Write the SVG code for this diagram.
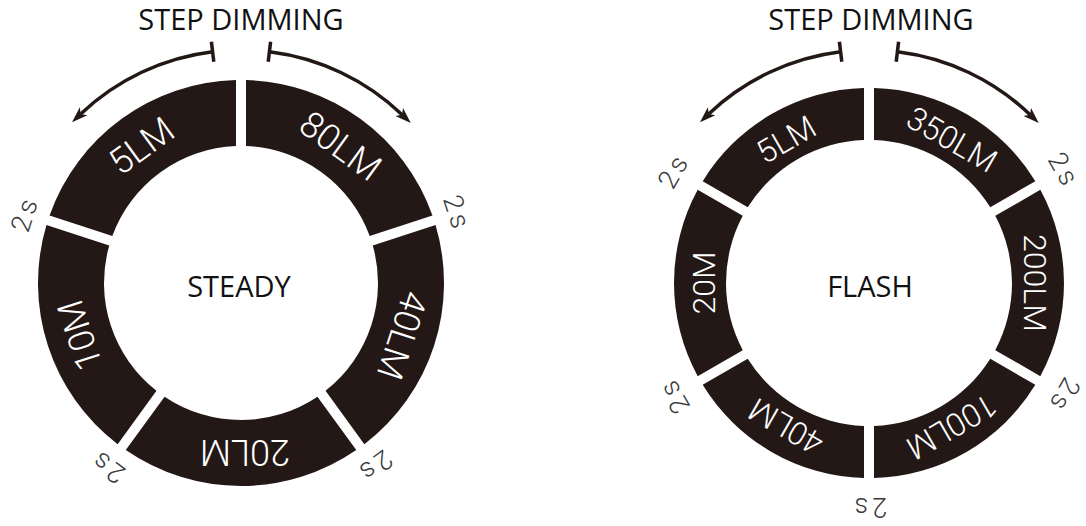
<svg xmlns="http://www.w3.org/2000/svg" width="1086" height="526" viewBox="0 0 1086 526">
  <style>
    .seg { fill: #231815; }
    .lbl { fill: #ffffff; font-family: Roboto, "Liberation Sans", sans-serif; font-weight: 300; text-anchor: middle; }
    .lblL { font-size: 36px; }
    .lblR { font-size: 32px; }
    .time { fill: #3a3a3a; font-family: Roboto, "Liberation Sans", sans-serif; font-weight: 300; font-size: 27px; text-anchor: middle; letter-spacing: 4px; }
    .title { fill: #111111; font-family: "Open Sans", "Noto Sans", sans-serif; font-size: 29px; text-anchor: middle; }
    .arc { fill: none; stroke: #231815; stroke-width: 3.5; }
  </style>
  <defs>
    <marker id="ah" markerUnits="userSpaceOnUse" markerWidth="16" markerHeight="12" viewBox="0 0 16 12" refX="4" refY="6" orient="auto">
      <path d="M0,0.5 L16,6 L0,11.5 L4,6 Z" fill="#231815"/>
    </marker>
  </defs>

  <rect width="1086" height="526" fill="#ffffff"/>

  <!-- Left diagram: STEADY -->
  <text class="title" x="241" y="30">STEP DIMMING</text>
  <text class="title" x="239" y="297">STEADY</text>

  <g id="steady-80lm">
    <path class="seg" d="M246,80.06 A203,203 0 0 1 432.47,215.54 L369.67,235.94 A137,137 0 0 0 246,146.09 Z"/>
    <text class="lbl lblL" transform="translate(340.9,145.5) rotate(36)" y="13">80LM</text>
  </g>
  <g id="steady-40lm">
    <path class="seg" d="M435.56,225.05 A203,203 0 0 1 364.34,444.24 L325.52,390.82 A137,137 0 0 0 372.76,245.45 Z"/>
    <text class="lbl lblL" transform="translate(402.7,335.5) rotate(108)" y="13">40LM</text>
  </g>
  <g id="steady-20lm">
    <path class="seg" d="M356.25,450.12 A203,203 0 0 1 125.76,450.12 L164.58,396.70 A137,137 0 0 0 317.43,396.70 Z"/>
    <text class="lbl lblL" transform="translate(245,453) rotate(180)" y="13">20LM</text>
  </g>
  <g id="steady-10m">
    <path class="seg" d="M117.67,444.24 A203,203 0 0 1 46.45,225.05 L109.25,245.45 A137,137 0 0 0 156.49,390.82 Z"/>
    <text class="lbl lblL" transform="translate(79.3,335.5) rotate(252)" y="13">10M</text>
  </g>
  <g id="steady-5lm">
    <path class="seg" d="M49.54,215.54 A203,203 0 0 1 236,80.06 L236,146.09 A137,137 0 0 0 112.34,235.94 Z"/>
    <text class="lbl lblL" transform="translate(141.1,145.5) rotate(324)" y="13">5LM</text>
  </g>

  <g id="steady-times">
    <text class="time" transform="translate(457,213.5) rotate(72)" y="9">2s</text>
    <text class="time" transform="translate(374.5,466.5) rotate(144)" y="9">2s</text>
    <text class="time" transform="translate(107.5,466.5) rotate(216)" y="9">2s</text>
    <text class="time" transform="translate(25,213.5) rotate(288)" y="9">2s</text>
  </g>

  <!-- Right diagram: FLASH -->
  <text class="title" x="871" y="30">STEP DIMMING</text>
  <text class="title" x="870" y="297">FLASH</text>

  <g id="flash-350lm">
    <path class="seg" d="M874,88.06 A195,195 0 0 1 1035.32,181.20 L990.26,207.21 A143,143 0 0 0 874,140.09 Z"/>
    <text class="lbl lblR" transform="translate(952,139.2) rotate(30)" y="11.5">350LM</text>
  </g>
  <g id="flash-200lm">
    <path class="seg" d="M1040.32,189.86 A195,195 0 0 1 1040.32,376.14 L995.26,350.13 A143,143 0 0 0 995.26,215.87 Z"/>
    <text class="lbl lblR" transform="translate(1035,283) rotate(90)" y="11.5">200LM</text>
  </g>
  <g id="flash-100lm">
    <path class="seg" d="M1035.32,384.80 A195,195 0 0 1 874,477.94 L874,425.91 A143,143 0 0 0 990.26,358.79 Z"/>
    <text class="lbl lblR" transform="translate(952,426.8) rotate(150)" y="11.5">100LM</text>
  </g>
  <g id="flash-40lm">
    <path class="seg" d="M864,477.94 A195,195 0 0 1 702.68,384.80 L747.74,358.79 A143,143 0 0 0 864,425.91 Z"/>
    <text class="lbl lblR" transform="translate(786,426.8) rotate(210)" y="11.5">40LM</text>
  </g>
  <g id="flash-20m">
    <path class="seg" d="M697.68,376.14 A195,195 0 0 1 697.68,189.86 L742.74,215.87 A143,143 0 0 0 742.74,350.13 Z"/>
    <text class="lbl lblR" transform="translate(703,283) rotate(270)" y="11.5">20M</text>
  </g>
  <g id="flash-5lm">
    <path class="seg" d="M702.68,181.20 A195,195 0 0 1 864,88.06 L864,140.09 A143,143 0 0 0 747.74,207.21 Z"/>
    <text class="lbl lblR" transform="translate(786,139.2) rotate(330)" y="11.5">5LM</text>
  </g>

  <g id="flash-times">
    <text class="time" transform="translate(1064,170.5) rotate(60)" y="9">2s</text>
    <text class="time" transform="translate(1064,395.5) rotate(120)" y="9">2s</text>
    <text class="time" transform="translate(869,507) rotate(180)" y="9">2s</text>
    <text class="time" transform="translate(674,395.5) rotate(240)" y="9">2s</text>
    <text class="time" transform="translate(674,170.5) rotate(300)" y="9">2s</text>
  </g>

  <!-- Connectors: step dimming arrows -->
  <g id="connectors">
    <path class="arc" d="M212.6,51.7 A233,233 0 0 0 80.7,113.9" marker-end="url(#ah)"/>
    <line class="arc" x1="213.8" y1="61.7" x2="211.4" y2="41.8"/>
    <path class="arc" d="M269.4,51.7 A233,233 0 0 1 402.1,114.7" marker-end="url(#ah)"/>
    <line class="arc" x1="268.2" y1="61.7" x2="270.6" y2="41.8"/>
    <path class="arc" d="M840.6,51.7 A233,233 0 0 0 708.7,113.9" marker-end="url(#ah)"/>
    <line class="arc" x1="841.8" y1="61.7" x2="839.4" y2="41.8"/>
    <path class="arc" d="M897.4,51.7 A233,233 0 0 1 1030.1,114.7" marker-end="url(#ah)"/>
    <line class="arc" x1="896.2" y1="61.7" x2="898.6" y2="41.8"/>
  </g>
</svg>
